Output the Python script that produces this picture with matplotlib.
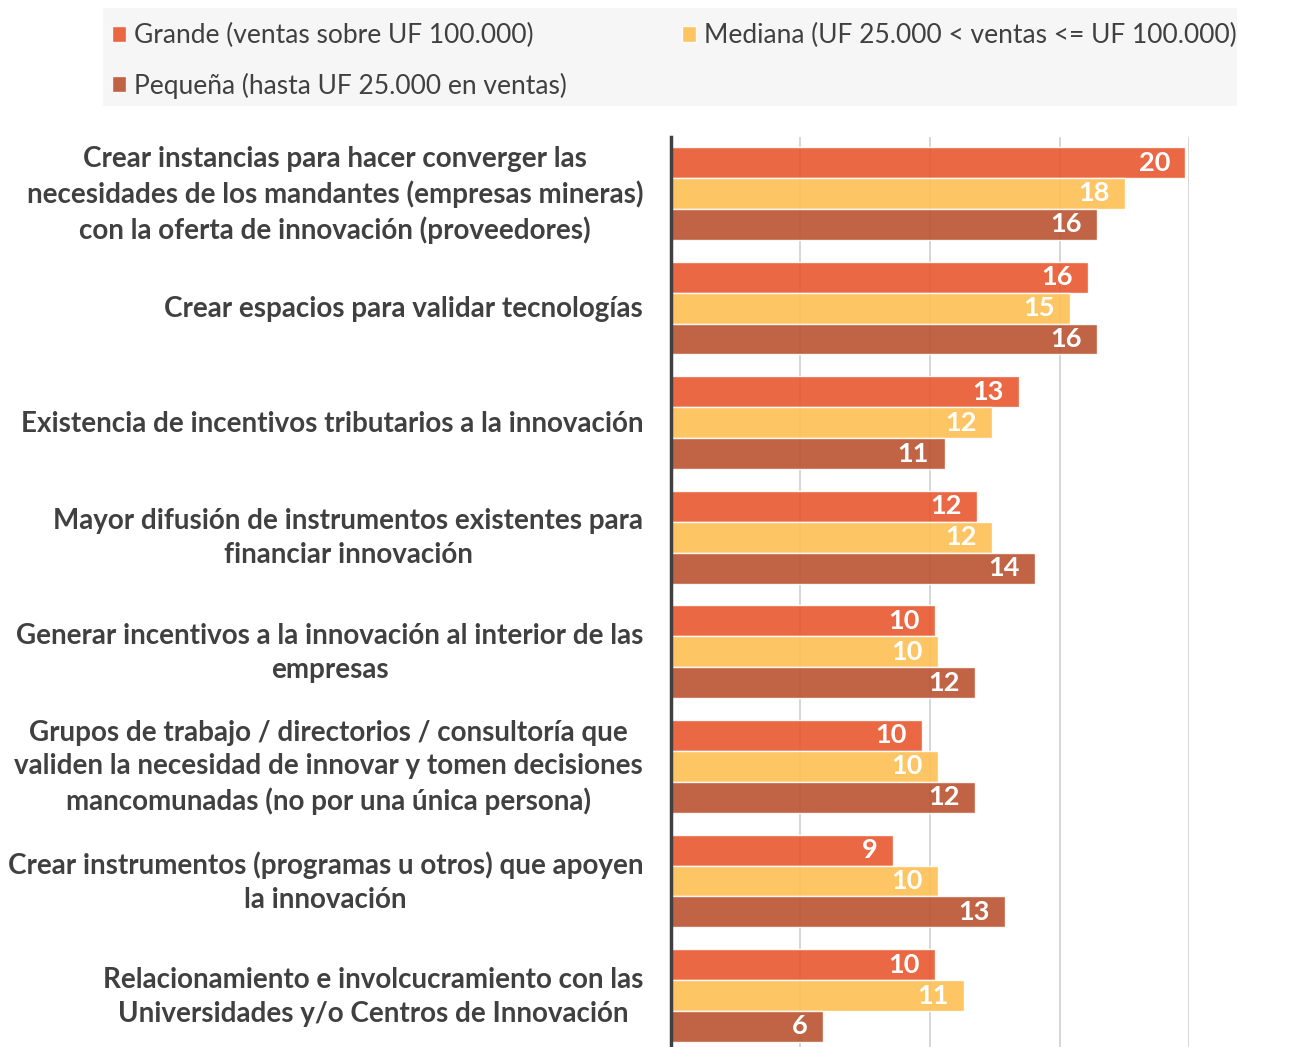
import numpy as np
import matplotlib.pyplot as plt
from matplotlib.patches import Rectangle

# categorias (de arriba hacia abajo)
categorias = [
    "Crear instancias para hacer converger las\nnecesidades de los mandantes (empresas mineras)\ncon la oferta de innovación (proveedores)",
    "Crear espacios para validar tecnologías",
    "Existencia de incentivos tributarios a la innovación",
    "Mayor difusión de instrumentos existentes para\nfinanciar innovación",
    "Generar incentivos a la innovación al interior de las\nempresas",
    "Grupos de trabajo / directorios / consultoría que\nvaliden la necesidad de innovar y tomen decisiones\nmancomunadas (no por una única persona)",
    "Crear instrumentos (programas u otros) que apoyen\nla innovación",
    "Relacionamiento e involcucramiento con las\nUniversidades y/o Centros de Innovación",
]

series = [
    "Grande (ventas sobre UF 100.000)",
    "Mediana (UF 25.000 < ventas <= UF 100.000)",
    "Pequeña (hasta UF 25.000 en ventas)",
]

grande = [19.86, 16.09, 13.42, 11.80, 10.20, 9.68, 8.58, 10.20]
mediana = [17.52, 15.42, 12.39, 12.39, 10.30, 10.30, 10.30, 11.33]
pequena = [16.44, 16.44, 10.56, 14.07, 11.75, 11.75, 12.91, 5.87]

colores = ["#E8572E", "#FDBF52", "#B95331"]

texto = "#404040"
fuente = "Lato"

fig = plt.figure(figsize=(13.09, 10.47), dpi=100)
ax = fig.add_axes([671 / 1309, 0, (1189 - 671) / 1309, 1 - 137 / 1047])

y = np.arange(len(categorias))
h = 0.27
for i, (vals, col, nom) in enumerate(zip([grande, mediana, pequena], colores, series)):
    pos = y + (i - 1) * h
    ax.barh(pos, vals, height=h, color=col, alpha=0.9, edgecolor=(1, 1, 1, 0.6),
            linewidth=1, label=nom, zorder=2)
    for p, v in zip(pos, vals):
        ax.annotate(f"{round(v)}", (v, p), xytext=(-11, 0), textcoords="offset points",
                    ha="right", va="center", color="white", fontsize=19.5,
                    fontweight="bold", family=fuente, zorder=3)

ax.set_xlim(0, 20)
ax.set_ylim(7.449, -0.493)
ax.set_xticks([5, 10, 15, 20])
ax.xaxis.grid(True, color="#d0d0d0", linewidth=1.2, zorder=0)
ax.tick_params(axis="x", length=0, labelbottom=False)
ax.set_yticks([])
for yi, cat in zip(y, categorias):
    ax.annotate(cat, (0, yi), xycoords=("axes fraction", "data"), xytext=(-20, -0.8),
                textcoords="offset points", ha="right", va="center",
                multialignment="center", linespacing=1.37, fontsize=20,
                fontweight="bold", color=texto, family=fuente)
for s in ["top", "right", "bottom"]:
    ax.spines[s].set_visible(False)
ax.spines["left"].set_color("#404040")
ax.spines["left"].set_linewidth(2.5)
ax.spines["left"].set_zorder(4)

# fondo de la leyenda
fig.patches.append(Rectangle((103 / 1309, 1 - 106 / 1047), 1134 / 1309, 98 / 1047,
                             transform=fig.transFigure, facecolor="#f6f6f6",
                             edgecolor="none", zorder=0))

# leyenda en orden por filas
hd, lb = ax.get_legend_handles_labels()
orden = [0, 2, 1]
leg = fig.legend([hd[k] for k in orden], [lb[k] for k in orden], ncol=2,
                 loc="upper left", mode="expand",
                 bbox_to_anchor=(100 / 1309, 0, 1149 / 1309, 1 - 11 / 1047),
                 frameon=False,
                 handlelength=0.55, handleheight=0.55, handletextpad=0.3,
                 labelspacing=0.93, borderpad=0.45, borderaxespad=0,
                 prop={"family": fuente, "size": 19.0})
for t in leg.get_texts():
    t.set_color(texto)

fig.savefig("out.png", dpi=100)
